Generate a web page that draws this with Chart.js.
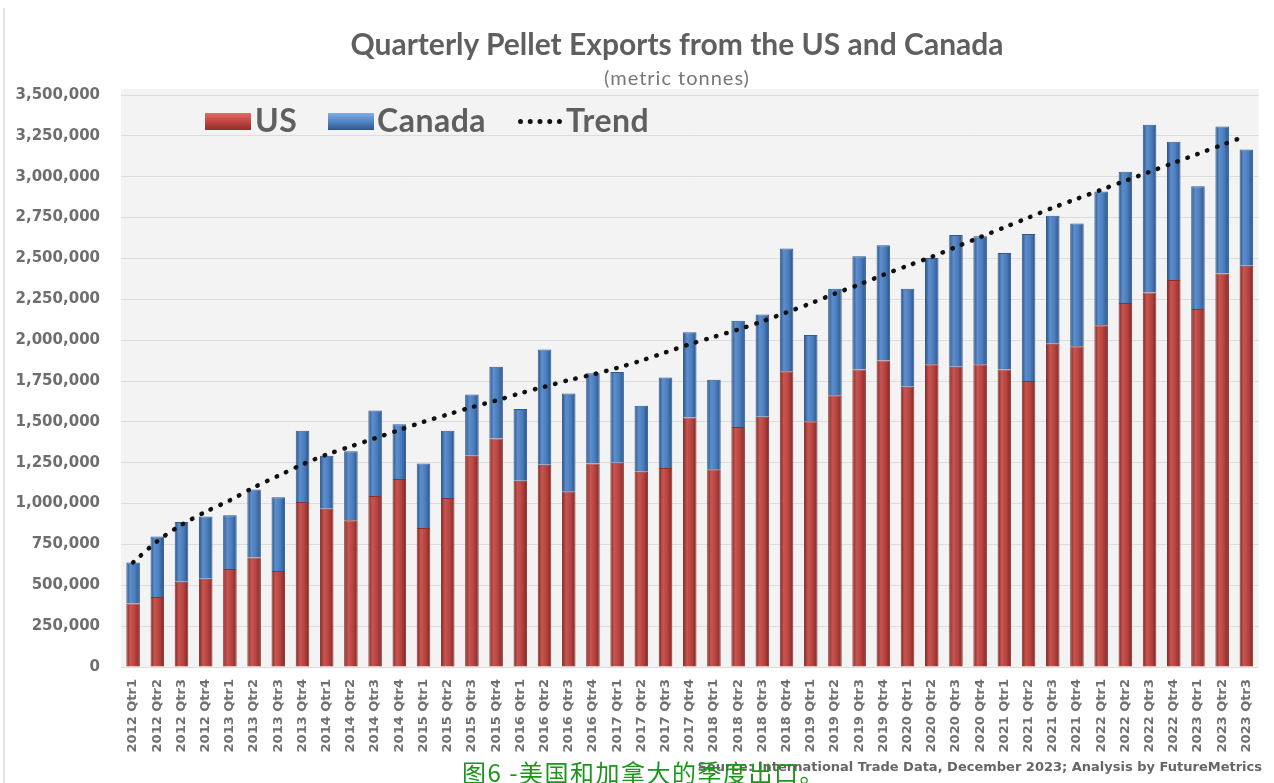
<!DOCTYPE html>
<html>
<head>
<meta charset="utf-8">
<script src="https://cdn.jsdelivr.net/npm/chart.js@4.4.1/dist/chart.umd.min.js"></script>
<style>
  body { margin: 0; background: #fff; }
  #wrap { position: relative; width: 1274px; height: 783px; overflow: hidden; font-family: Lato, sans-serif; }
  #edge { position: absolute; left: 3px; top: 8px; width: 2px; height: 775px; background: #e4e4e4; }
  .title { position: absolute; left: 0; width: 1354px; text-align: center; color: #5f5f5f; }
  #t1 { top: 25px; font-size: 30px; font-weight: bold; }
  #t2 { top: 65px; font-size: 20px; color: #777; letter-spacing: 1px; }
  .lg { position: absolute; top: 102px; font-size: 32px; font-weight: bold; color: #5f5f5f; line-height: 36px; letter-spacing: 0.5px; }
  .box { position: absolute; top: 113px; height: 17px; }
  #dots { position: absolute; left: 518px; top: 119px; width: 44px; height: 0; border-top: 5px dotted #111; }
  #src { position: absolute; right: 12px; top: 759px; font-family: "DejaVu Sans", sans-serif; font-size: 13px; font-weight: bold; color: #666; }
  #cap { position: absolute; left: 462px; top: 754px; font-family: "Noto Sans CJK SC", sans-serif; font-size: 24px; color: #1a961a; letter-spacing: 1.5px; }
</style>
</head>
<body>
<div id="wrap">
  <canvas id="mychart" width="1274" height="783"></canvas>
  <div id="edge"></div>
  <div class="title" id="t1">Quarterly Pellet Exports from the US and Canada</div>
  <div class="title" id="t2">(metric tonnes)</div>
  <div class="box" style="left:205px;width:46px;background:linear-gradient(#e06a66,#b9403c 60%,#8e2f2c);"></div>
  <div class="lg" style="left:255px;">US</div>
  <div class="box" style="left:328px;width:46px;background:linear-gradient(#7fb0ea,#4a7bbb 60%,#2d5688);"></div>
  <div class="lg" style="left:377px;">Canada</div>
  <div id="dots"></div>
  <div class="lg" style="left:566px;">Trend</div>
  <div id="src">Source: International Trade Data, December 2023; Analysis by FutureMetrics</div>
  <div id="cap">图6 -美国和加拿大的季度出口。</div>
</div>
<script>
const quarters = [
  '2012 Qtr1','2012 Qtr2','2012 Qtr3','2012 Qtr4',
  '2013 Qtr1','2013 Qtr2','2013 Qtr3','2013 Qtr4',
  '2014 Qtr1','2014 Qtr2','2014 Qtr3','2014 Qtr4',
  '2015 Qtr1','2015 Qtr2','2015 Qtr3','2015 Qtr4',
  '2016 Qtr1','2016 Qtr2','2016 Qtr3','2016 Qtr4',
  '2017 Qtr1','2017 Qtr2','2017 Qtr3','2017 Qtr4',
  '2018 Qtr1','2018 Qtr2','2018 Qtr3','2018 Qtr4',
  '2019 Qtr1','2019 Qtr2','2019 Qtr3','2019 Qtr4',
  '2020 Qtr1','2020 Qtr2','2020 Qtr3','2020 Qtr4',
  '2021 Qtr1','2021 Qtr2','2021 Qtr3','2021 Qtr4',
  '2022 Qtr1','2022 Qtr2','2022 Qtr3','2022 Qtr4',
  '2023 Qtr1','2023 Qtr2','2023 Qtr3'
];

// thousands of tonnes
const usExports = [388,428,522,540,599,670,587,1010,968,898,1046,1151,851,1034,1292,1398,
  1140,1238,1076,1245,1250,1194,1217,1527,1210,1468,1532,1809,1504,1663,1820,1875,
  1715,1852,1837,1852,1821,1750,1978,1962,2091,2227,2291,2368,2190,2408,2455];
const canadaExports = [251,371,366,381,329,416,452,435,324,422,524,334,394,411,376,439,
  439,705,597,552,555,404,555,522,548,651,625,752,528,651,694,705,
  599,650,806,784,712,900,783,752,818,804,1027,846,752,900,712];
const trend = [640,770,870,950,1020,1100,1170,1240,1300,1350,1400,1450,1500,1545,1590,1630,
  1675,1715,1755,1790,1830,1875,1925,1975,2020,2065,2115,2170,2225,2285,2340,2400,
  2455,2510,2570,2630,2690,2750,2810,2865,2920,2975,3030,3085,3140,3195,3250];

const yTicks = [0,250000,500000,750000,1000000,1250000,1500000,1750000,2000000,
  2250000,2500000,2750000,3000000,3250000,3500000];

const k = v => v * 1000;

// cylinder look for the bars
const cyl = (dark, mid, light) => c => {
  const el = c.element;
  if (!el || !isFinite(el.x) || !el.width) return mid;
  const x0 = el.x - el.width / 2;
  const g = c.chart.ctx.createLinearGradient(x0, 0, x0 + el.width, 0);
  g.addColorStop(0, dark);
  g.addColorStop(0.3, light);
  g.addColorStop(0.65, mid);
  g.addColorStop(1, dark);
  return g;
};

const plotBg = {
  id: 'plotBg',
  beforeDraw(chart) {
    const {ctx, chartArea: a} = chart;
    ctx.save();
    ctx.fillStyle = '#f3f3f3';
    ctx.fillRect(a.left, a.top - 6, a.right - a.left, a.bottom - a.top + 6);
    ctx.restore();
  }
};

Chart.defaults.font.family = 'Lato, sans-serif';

const ctx = document.getElementById('mychart').getContext('2d');
let mychart = new Chart(ctx, {
  type: 'bar',
  data: {
    labels: quarters,
    datasets: [
      {
        type: 'line',
        label: 'Trend',
        data: trend.map(k),
        stack: 'trend',
        order: 0,
        borderColor: '#111',
        borderWidth: 4.5,
        borderDash: [0.5, 10],
        borderCapStyle: 'round',
        pointRadius: 0,
        tension: 0.3,
        fill: false
      },
      {
        label: 'US',
        data: usExports.map(k),
        stack: 'a',
        order: 1,
        backgroundColor: cyl('#7c2826', '#b5423f', '#c95550'),
        borderColor: '#8a302d',
        borderWidth: 1
      },
      {
        label: 'Canada',
        data: canadaExports.map(k),
        stack: 'a',
        order: 2,
        backgroundColor: cyl('#2a5285', '#4a7bbb', '#5d8ecd'),
        borderColor: '#2f5a8f',
        borderWidth: 1
      }
    ]
  },
  options: {
    responsive: false,
    animation: false,
    layout: { padding: { top: 95, left: 0, right: 0, bottom: 0 } },
    datasets: { bar: { categoryPercentage: 1, barPercentage: 0.56 } },
    plugins: { legend: { display: false }, tooltip: { enabled: false } },
    scales: {
      x: {
        stacked: true,
        grid: { display: false, drawTicks: false },
        border: { display: false },
        ticks: {
          autoSkip: false, minRotation: 90, maxRotation: 90, padding: 12,
          color: '#707070', font: { family: '"DejaVu Sans", sans-serif', size: 13, weight: 'bold' }
        },
        afterFit: s => { s.height = 116; }
      },
      y: {
        stacked: true,
        min: 0, max: 3500000,
        afterBuildTicks: s => { s.ticks = yTicks.map(v => ({ value: v })); },
        grid: { color: '#dcdcdc', drawTicks: false },
        border: { display: false },
        ticks: {
          padding: 21, color: '#6e6e6e', font: { family: '"DejaVu Sans", sans-serif', size: 15, weight: 'bold' },
          callback: v => v.toLocaleString('en-US')
        },
        afterFit: s => { s.width = 121; }
      }
    }
  },
  plugins: [plotBg]
});
mychart.update('none');
</script>
</body>
</html>
